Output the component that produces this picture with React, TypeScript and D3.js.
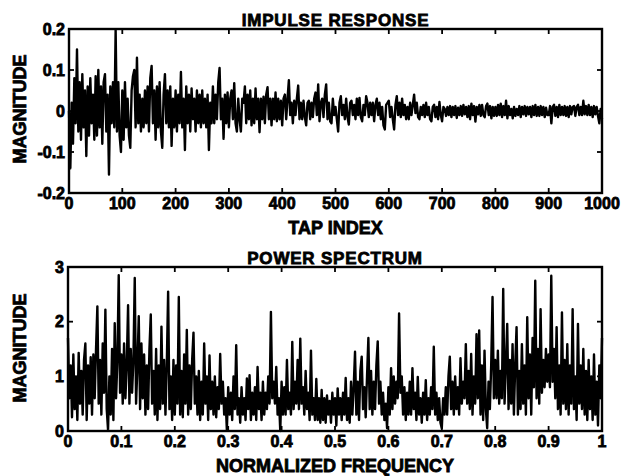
import React from 'react';
import * as d3 from 'd3';

// ---- Data ----
const impulseTapStep = 2.5; // tap-index spacing of the readings below
const impulseValues = [
  0.0, -0.14, 0.02, -0.08, 0.08, -0.03, 0.15, -0.05, 0.07, -0.07,
  0.09, -0.04, 0.05, -0.11, 0.06, -0.06, 0.08, -0.03, 0.04, -0.07,
  0.085, -0.06, 0.1, -0.04, 0.06, -0.08, 0.07, 0.09, -0.05, 0.04,
  -0.155, 0.06, -0.03, 0.07, -0.04, 0.197, -0.05, 0.07, -0.06, -0.1,
  0.05, -0.07, 0.07, -0.04, 0.03, -0.06, -0.09, 0.05, 0.085, 0.1,
  -0.04, 0.13, -0.03, 0.04, -0.05, 0.03, -0.04, 0.05, -0.03, 0.06,
  -0.05, 0.08, 0.11, -0.03, 0.05, -0.07, 0.06, -0.04, 0.07, -0.05,
  -0.09, 0.04, 0.09, -0.03, 0.05, -0.04, 0.06, -0.085, 0.03, -0.04,
  0.05, -0.05, 0.04, -0.03, 0.095, -0.04, 0.03, -0.095, 0.06, -0.03,
  0.04, -0.05, 0.055, -0.02, 0.03, -0.05, 0.05, -0.03, 0.04, -0.04,
  0.05, -0.03, 0.03, -0.04, 0.04, -0.095, 0.02, -0.03, 0.06, -0.03,
  0.04, -0.02, 0.07, 0.105, -0.02, 0.03, -0.068, 0.04, -0.03, 0.045,
  -0.04, 0.03, 0.05, -0.02, 0.068, -0.03, -0.05, 0.03, -0.02, -0.05,
  0.03, 0.02, 0.06, -0.03, 0.04, -0.02, 0.05, -0.035, 0.03, -0.03,
  0.055, -0.02, 0.03, -0.052, 0.03, -0.02, 0.035, -0.03, 0.04, 0.058,
  -0.02, 0.03, -0.035, 0.03, -0.02, 0.045, -0.025, 0.03, -0.02, 0.025,
  -0.035, 0.03, 0.04, -0.02, 0.03, 0.075, -0.01, 0.02, -0.03, 0.025,
  -0.01, 0.03, 0.062, -0.02, 0.02, -0.02, 0.025, -0.015, -0.035, 0.02,
  0.025, -0.02, 0.02, -0.015, 0.03, 0.045, -0.01, 0.065, -0.025, 0.02,
  0.03, -0.015, 0.04, 0.065, -0.02, 0.02, -0.025, -0.03, 0.03, -0.01,
  0.01, -0.02, -0.05, 0.02, 0.036, -0.01, 0.015, -0.02, 0.03, -0.015,
  -0.033, 0.02, 0.025, -0.01, 0.015, -0.02, 0.03, -0.01, 0.032, -0.015,
  -0.025, 0.015, -0.01, 0.036, 0.02, -0.015, 0.02, -0.01, 0.02, -0.025,
  0.015, 0.03, -0.01, 0.02, -0.02, 0.01, -0.035, -0.045, 0.015, 0.02,
  0.025, -0.015, 0.01, -0.02, -0.045, 0.015, 0.036, -0.01, 0.02, -0.015,
  0.03, -0.01, 0.015, -0.02, 0.01, -0.02, 0.02, -0.01, 0.015, 0.04,
  -0.005, 0.02, -0.015, -0.02, 0.01, -0.01, 0.015, -0.015, 0.02, -0.01,
  0.01, -0.02, -0.025, 0.01, 0.015, -0.015, 0.01, -0.02, 0.022, -0.01,
  -0.025, 0.01, 0.005, -0.012, 0.01, -0.01, 0.012, -0.015, 0.01, -0.01,
  0.012, -0.017, 0.008, -0.01, 0.012, -0.012, 0.015, -0.008, 0.01, -0.015,
  0.012, -0.02, 0.018, -0.01, 0.012, -0.026, 0.01, -0.008, 0.015, -0.012,
  0.015, -0.01, -0.015, 0.012, 0.018, -0.01, 0.012, -0.018, 0.01, -0.012,
  0.01, -0.012, 0.015, -0.01, 0.018, -0.015, 0.012, -0.01, 0.025, -0.018,
  0.012, -0.01, 0.005, -0.018, 0.01, -0.012, 0.005, -0.01, 0.012, -0.015,
  0.01, -0.008, 0.012, -0.012, 0.01, -0.008, 0.01, -0.015, 0.012, -0.01,
  0.015, -0.012, 0.01, -0.012, 0.012, -0.01, 0.01, -0.015, 0.008, -0.01,
  -0.01, 0.012, -0.03, 0.01, 0.015, -0.012, 0.01, -0.015, 0.015, -0.01,
  0.01, -0.01, 0.012, -0.012, 0.01, -0.015, 0.012, -0.008, 0.01, 0.012,
  -0.012, 0.01, 0.015, -0.01, 0.01, -0.01, 0.025, -0.008, 0.012, -0.01,
  0.015, -0.01, 0.01, -0.015, 0.012, -0.008, 0.01, -0.012, -0.03, 0.005,
  -0.02,
];

const spectrumFreqStep = 0.0025; // normalized-frequency spacing of the readings below
const spectrumValues = [
  1.7, 0.6, 1.2, 0.25, 1.4, 0.4, 1.0, 0.2, 1.43, 0.5,
  1.1, 0.3, 1.3, 1.6, 0.2, 1.2, 0.5, 1.35, 0.3, 1.4,
  0.6, 1.5, 2.28, 0.5, 1.3, 0.3, 1.6, 0.7, 2.22, 0.4,
  0.02, 1.0, 0.3, 1.5, 0.2, 1.97, 0.6, 1.3, 2.85, 0.7,
  1.4, 0.5, 1.6, 0.6, 1.2, 2.3, 0.5, 1.5, 0.7, 1.3,
  2.8, 0.5, 1.2, 2.1, 0.4, 1.6, 0.6, 1.4, 0.3, 1.2,
  0.4, 1.5, 2.13, 0.5, 1.1, 0.3, 1.5, 0.2, 1.2, 0.4,
  1.91, 0.5, 1.3, 0.3, 1.2, 2.55, 0.4, 1.0, 0.2, 1.3,
  0.3, 1.2, 0.5, 2.45, 0.3, 1.1, 0.25, 1.4, 0.5, 1.85,
  0.3, 1.2, 0.4, 1.3, 1.8, 0.5, 1.0, 0.3, 1.1, 0.2,
  0.9, 0.3, 1.6, 0.5, 1.0, 0.2, 1.38, 0.4, 0.9, 0.3,
  1.0, 0.25, 0.8, 0.4, 1.41, 0.5, 0.9, 0.3, 0.6, 0.02,
  0.8, 0.3, 0.7, 0.2, 1.0, 0.4, 1.57, 0.3, 0.6, 0.15,
  0.8, 0.3, 0.6, 0.2, 0.96, 0.4, 1.02, 0.2, 0.7, 0.3,
  0.8, 0.2, 1.17, 0.4, 0.7, 0.2, 0.9, 0.3, 0.7, 0.4,
  1.0, 0.5, 2.18, 0.6, 0.9, 0.5, 1.17, 0.3, 0.6, 0.0,
  0.9, 0.3, 0.8, 0.3, 1.3, 0.4, 0.7, 0.3, 1.63, 0.4,
  0.9, 0.5, 1.3, 0.4, 1.69, 0.5, 0.8, 0.3, 1.1, 0.4,
  0.7, 0.2, 1.47, 0.3, 0.6, 0.2, 0.95, 0.2, 0.6, 0.15,
  0.75, 0.2, 0.6, 0.15, 0.65, 0.3, 0.55, 0.15, 0.7, 0.3,
  0.6, 0.1, 0.78, 0.3, 0.6, 0.2, 0.7, 0.3, 0.97, 0.2,
  0.6, 0.15, 0.9, 0.3, 0.8, 1.45, 0.3, 0.9, 0.2, 1.1,
  1.36, 0.4, 0.8, 0.25, 1.0, 1.7, 0.4, 1.1, 0.3, 0.9,
  0.4, 1.2, 1.64, 0.5, 0.9, 0.3, 0.7, 0.2, 0.5, 0.05,
  0.8, 0.3, 1.15, 0.4, 1.0, 0.5, 0.9, 0.6, 2.15, 0.7,
  1.0, 0.3, 0.8, 0.2, 0.7, 0.3, 0.9, 0.3, 1.15, 0.4,
  0.7, 0.2, 0.99, 0.3, 0.6, 0.15, 0.7, 0.3, 0.93, 0.2,
  0.6, 0.3, 0.8, 0.4, 1.54, 0.3, 0.7, 0.2, 0.6, 0.15,
  0.05, 0.6, 0.3, 0.8, 0.3, 1.0, 1.36, 0.4, 0.9, 0.3,
  1.0, 0.4, 0.8, 0.3, 1.33, 0.5, 0.9, 0.6, 1.59, 0.5,
  1.1, 0.4, 1.41, 0.3, 1.0, 0.5, 1.77, 0.6, 1.84, 0.3,
  1.2, 0.2, 1.47, 0.4, 0.05, 0.9, 0.4, 1.2, 2.45, 0.6,
  1.3, 0.6, 1.47, 0.5, 1.1, 0.6, 2.6, 0.5, 1.2, 1.96,
  0.4, 1.3, 0.5, 1.59, 0.3, 1.2, 1.9, 0.3, 1.1, 0.4,
  1.59, 0.5, 1.2, 0.3, 2.08, 0.6, 1.4, 0.3, 1.7, 0.8,
  2.75, 0.6, 1.5, 0.5, 2.23, 0.7, 1.3, 0.8, 1.5, 0.9,
  1.4, 0.8, 2.84, 0.9, 1.5, 0.6, 1.9, 0.4, 1.2, 0.3,
  2.17, 0.5, 1.3, 0.4, 1.59, 0.3, 1.2, 0.5, 2.23, 0.4,
  1.0, 0.2, 1.96, 0.5, 1.2, 0.4, 1.5, 0.3, 1.1, 0.2,
  1.3, 0.4, 1.0, 0.2, 1.4, 0.3, 0.9, 0.1, 1.2, 0.6,
  1.7,
];

const impulseXTicks = [0, 100, 200, 300, 400, 500, 600, 700, 800, 900, 1000];
const impulseXLabels = ['0', '100', '200', '300', '400', '500', '600', '700', '800', '900', '1000'];
const impulseYTicks = [-0.2, -0.1, 0, 0.1, 0.2];
const impulseYLabels = ['-0.2', '-0.1', '0', '0.1', '0.2'];

const spectrumXTicks = [0, 0.1, 0.2, 0.3, 0.4, 0.5, 0.6, 0.7, 0.8, 0.9, 1];
const spectrumXLabels = ['0', '0.1', '0.2', '0.3', '0.4', '0.5', '0.6', '0.7', '0.8', '0.9', '1'];
const spectrumYTicks = [0, 1, 2, 3];
const spectrumYLabels = ['0', '1', '2', '3'];

const FONT = '"Liberation Sans", Arial, Helvetica, sans-serif';

type PanelProps = {
  x0: number; x1: number; y0: number; y1: number;
  xDomain: [number, number]; yDomain: [number, number];
  points: [number, number][];
  xTicks: number[]; xLabels: string[];
  yTicks: number[]; yLabels: string[];
  title: string; xTitle: string; yTitle: string; yTitleY: number;
};

function Panel(p: PanelProps) {
  const x = d3.scaleLinear().domain(p.xDomain).range([p.x0, p.x1]);
  const y = d3.scaleLinear().domain(p.yDomain).range([p.y1, p.y0]);
  const line = d3.line<[number, number]>().x(d => x(d[0])).y(d => y(d[1]));
  const tl = 5;
  const cx = (p.x0 + p.x1) / 2;
  const textStroke = { stroke: '#000', strokeWidth: 0.8 };
  return (
    <g fontFamily={FONT} fontWeight="bold" fill="#000">
      <path d={line(p.points) || ''} fill="none" stroke="#000" strokeWidth={2.4}
        strokeLinejoin="round" />
      <rect x={p.x0} y={p.y0} width={p.x1 - p.x0} height={p.y1 - p.y0}
        fill="none" stroke="#000" strokeWidth={2.4} />
      {p.xTicks.map((t, i) => (
        <g key={'x' + i}>
          <line x1={x(t)} x2={x(t)} y1={p.y1} y2={p.y1 - tl} stroke="#000" strokeWidth={1.8} />
          <line x1={x(t)} x2={x(t)} y1={p.y0} y2={p.y0 + tl} stroke="#000" strokeWidth={1.8} />
          <text x={x(t)} y={p.y1 + 16} textAnchor="middle" fontSize={16} {...textStroke}>{p.xLabels[i]}</text>
        </g>
      ))}
      {p.yTicks.map((t, i) => (
        <g key={'y' + i}>
          <line x1={p.x0} x2={p.x0 + tl} y1={y(t)} y2={y(t)} stroke="#000" strokeWidth={1.8} />
          <line x1={p.x1} x2={p.x1 - tl} y1={y(t)} y2={y(t)} stroke="#000" strokeWidth={1.8} />
          <text x={p.x0 - 4} y={y(t) + 5.5} textAnchor="end" fontSize={16} {...textStroke}>{p.yLabels[i]}</text>
        </g>
      ))}
      <text x={cx} y={p.y0 - 3} textAnchor="middle" fontSize={17} letterSpacing={0.8} {...textStroke}>{p.title}</text>
      <text x={cx} y={p.y1 + 41} textAnchor="middle" fontSize={18} {...textStroke}>{p.xTitle}</text>
      <text transform={`translate(26,${p.yTitleY}) rotate(-90)`} textAnchor="middle" fontSize={18} {...textStroke}>{p.yTitle}</text>
    </g>
  );
}

export default function App() {
  const impulsePoints: [number, number][] = impulseValues.map((v, i) => [i * impulseTapStep, v]);
  const spectrumPoints: [number, number][] = spectrumValues.map((v, i) => [i * spectrumFreqStep, v]);
  return (
    <svg width={625} height={476} style={{ position: 'absolute', left: 0, top: 0, background: '#fff' }}>
      <rect x={0} y={0} width={625} height={476} fill="#fff" />
      <Panel x0={69} x1={602} y0={29} y1={193}
        xDomain={[0, 1000]} yDomain={[-0.2, 0.2]} points={impulsePoints}
        xTicks={impulseXTicks} xLabels={impulseXLabels}
        yTicks={impulseYTicks} yLabels={impulseYLabels}
        title="IMPULSE RESPONSE" xTitle="TAP INDEX" yTitle="MAGNITUDE" yTitleY={109} />
      <Panel x0={68} x1={602} y0={267} y1={431}
        xDomain={[0, 1]} yDomain={[0, 3]} points={spectrumPoints}
        xTicks={spectrumXTicks} xLabels={spectrumXLabels}
        yTicks={spectrumYTicks} yLabels={spectrumYLabels}
        title="POWER SPECTRUM" xTitle="NORMALIZED FREQUENCY" yTitle="MAGNITUDE" yTitleY={348} />
    </svg>
  );
}
